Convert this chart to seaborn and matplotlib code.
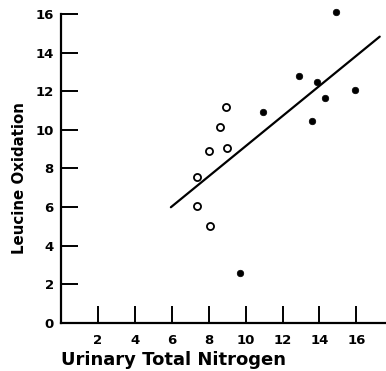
import matplotlib
matplotlib.use("Agg")
import matplotlib.pyplot as plt
import seaborn as sns
import pandas as pd

# Data
open_x = [8.93, 8.63, 8.03, 8.99, 7.40, 7.37, 8.09]
open_y = [11.21, 10.17, 8.91, 9.05, 7.58, 6.04, 5.03]
filled_x = [9.69, 14.90, 12.90, 13.89, 15.93, 14.29, 10.92, 13.62]
filled_y = [2.56, 16.10, 12.82, 12.49, 12.09, 11.68, 10.93, 10.45]
line_x = [5.96, 17.26]
line_y = [5.99, 14.84]
x_ticks = [2, 4, 6, 8, 10, 12, 14, 16]
y_ticks = [0, 2, 4, 6, 8, 10, 12, 14, 16]
x_label = "Urinary Total Nitrogen"
y_label = "Leucine Oxidation"

sns.set_theme(style="ticks")
plt.rcParams['font.family'] = ['DejaVu Sans']
plt.rcParams['text.color'] = 'black'
plt.rcParams['axes.labelcolor'] = 'black'

fig = plt.figure(figsize=(3.86, 3.71), dpi=100)
ax = fig.add_axes([0.1573, 0.1302, 0.8427, 0.8313])

df_open = pd.DataFrame({"x": open_x, "y": open_y})
df_filled = pd.DataFrame({"x": filled_x, "y": filled_y})
df_line = pd.DataFrame({"x": line_x, "y": line_y})

sns.lineplot(data=df_line, x="x", y="y", ax=ax, color="black", linewidth=1.6)
sns.scatterplot(data=df_open, x="x", y="y", ax=ax, marker="o", s=26,
                facecolor="white", edgecolor="black", linewidth=1.3, zorder=3,
                clip_on=False)
sns.scatterplot(data=df_filled, x="x", y="y", ax=ax, marker="o", s=22,
                color="black", edgecolor="black", linewidth=0.5, zorder=3,
                clip_on=False)

ax.set_xlim(0, 17.6)
ax.set_ylim(0, 16)
ax.set_xticks(x_ticks)
ax.set_yticks(y_ticks)
ax.set_xticklabels([str(t) for t in x_ticks], fontweight="bold")
ax.set_yticklabels([str(t) for t in y_ticks], fontweight="bold")

for s in ["top", "right"]:
    ax.spines[s].set_visible(False)
for s in ["left", "bottom"]:
    ax.spines[s].set_linewidth(1.6)
    ax.spines[s].set_color("black")

ax.tick_params(axis="both", direction="in", length=12.5, width=1.4,
               colors="black", labelsize=9.5)
ax.tick_params(axis="x", pad=8)
ax.tick_params(axis="y", pad=5)

ax.set_xlabel(x_label, fontsize=13, fontweight="bold", loc="left", labelpad=3,
              color="black")
ax.set_ylabel(y_label, fontsize=10.8, fontweight="bold", labelpad=6,
              color="black")
ax.yaxis.label.set_y(0.47)

fig.savefig("out.png", dpi=100)
